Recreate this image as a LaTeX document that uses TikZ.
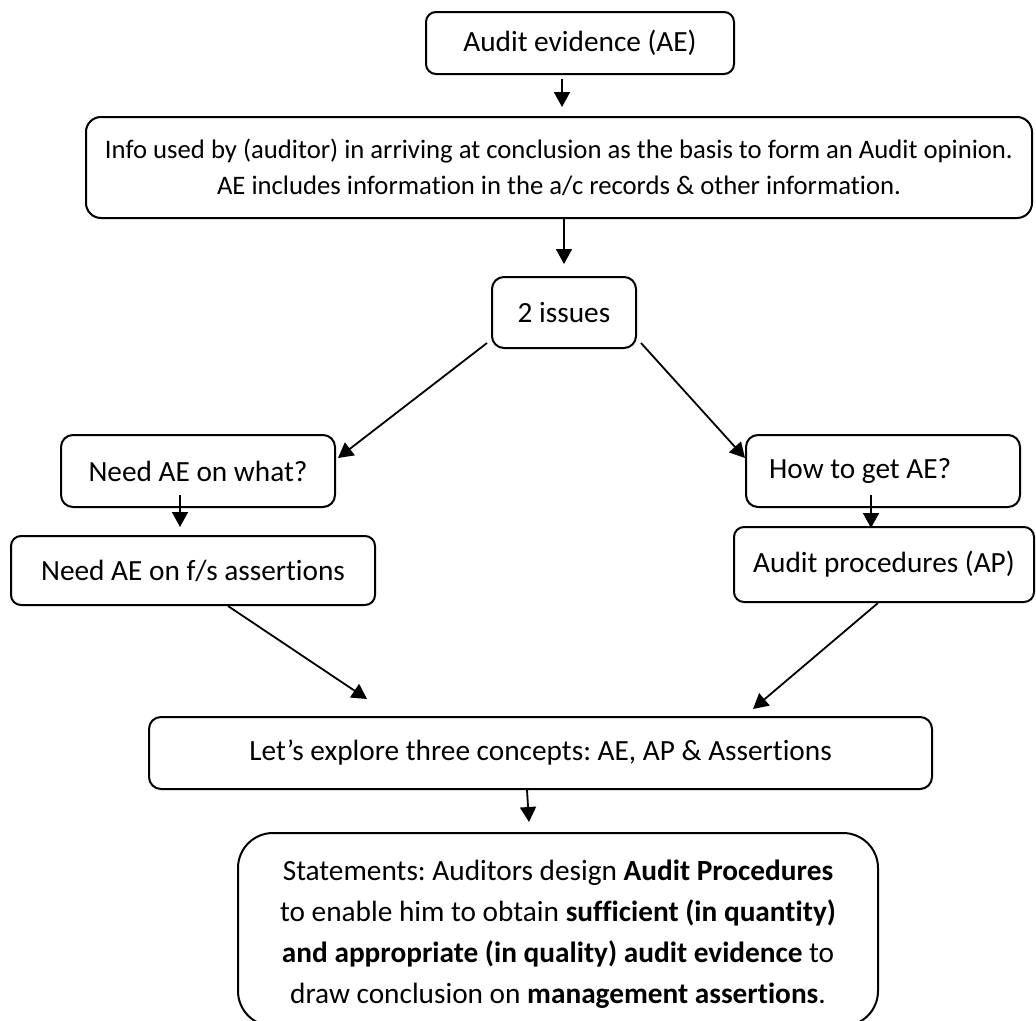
\documentclass[tikz,border=0pt]{standalone}
\usepackage{fontspec}
\setmainfont[Ligatures=NoCommon]{Carlito}
\usetikzlibrary{arrows.meta}
\frenchspacing
\begin{document}
\begin{tikzpicture}[x=1pt,y=-1pt,
  box/.style={draw, line width=2pt, rounded corners=#1, inner sep=0pt, align=center},
  box/.default=12pt,
  arr/.style={line width=1.8pt, -{Triangle[length=15pt,width=16pt]}},
  big/.style={font=\fontsize{29.3}{41}\selectfont},
  mid/.style={font=\fontsize{26.7}{36}\selectfont}]
\useasboundingbox (0,0) rectangle (1036,1020);

% flowchart boxes
\node[box=10pt, big, minimum width=308pt, minimum height=62pt] (ae) at (580,43) {Audit evidence (AE)};
\node[box=15pt, mid, minimum width=946pt, minimum height=101pt] (info) at (559,167.5)
  {Info used by (auditor) in arriving at conclusion as the basis to form an Audit opinion.\\
   AE includes information in the a/c records \& other information.};
\node[box, big, minimum width=144pt, minimum height=71pt] (iss) at (564,312.5) {2 issues};
\node[box, big, minimum width=274pt, minimum height=72pt] (what) at (198,471) {Need AE on what?};
\node[box, minimum width=274pt, minimum height=72pt] (how) at (883,471) {};
\node[big, anchor=west, inner sep=0pt] (howtext) at ([xshift=24pt]how.west) {How to get AE?};
\node[box=10pt, big, minimum width=364pt, minimum height=69pt] (fs) at (193,570.5) {Need AE on f/s assertions};
\node[box=10pt, big, minimum width=300pt, minimum height=75pt] (ap) at (884,564.5) {Audit procedures (AP)};
\node[box, big, minimum width=783pt, minimum height=72pt] (lets) at (540.5,753) {Let’s explore three concepts: AE, AP \& Assertions};
\node[box=35pt, minimum width=640pt, minimum height=193pt] (stmt) at (558,929.5) {};
\node[big, align=center, inner sep=0pt] (stmttext) at (558,934)
  {Statements: Auditors design \textbf{Audit Procedures}\\
   to enable him to obtain \textbf{sufficient (in quantity)}\\
   \textbf{and appropriate (in quality) audit evidence} to\\
   draw conclusion on \textbf{management assertions}.};

% connectors
\draw[arr] ([xshift=-18pt,yshift=-4pt]ae.south) -- ([xshift=3pt,yshift=9pt]info.north);
\draw[arr] ([xshift=5pt]info.south) -- ([yshift=12pt]iss.north);
\draw[arr] ([xshift=-4pt,yshift=6pt]iss.south west) -- ([xshift=2pt,yshift=13pt]what.east);
\draw[arr] ([xshift=4pt,yshift=6pt]iss.south east) -- ([yshift=13pt]how.west);
\draw[arr] ([xshift=-18pt,yshift=13pt]what.south) -- ([xshift=-13pt,yshift=8pt]fs.north);
\draw[arr] ([xshift=-12pt,yshift=13pt]how.south) -- ([xshift=-13pt,yshift=-2pt]ap.north);
\draw[arr] ([xshift=35pt]fs.south) -- ([xshift=-173.5pt,yshift=17pt]lets.north);
\draw[arr] ([xshift=-6pt]ap.south) -- ([xshift=212.5pt,yshift=7pt]lets.north);
\draw[arr] ([xshift=-13.5pt]lets.south) -- ([xshift=-29pt,yshift=10pt]stmt.north);
\end{tikzpicture}
\end{document}
